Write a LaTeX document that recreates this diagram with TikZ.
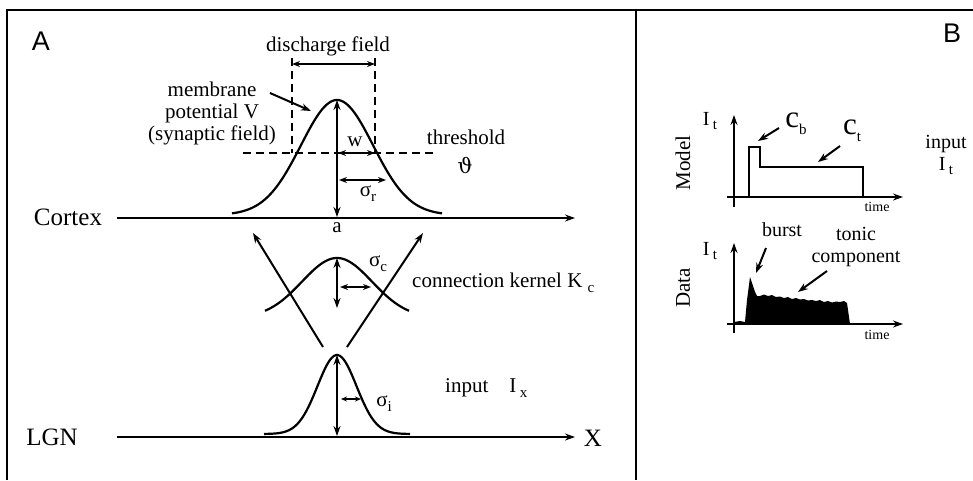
\documentclass[tikz,border=0pt]{standalone}
\usepackage{fontspec}
\setmainfont{Liberation Serif}
\setsansfont{Liberation Sans}
\newfontfamily\symfont{DejaVu Serif}
\usetikzlibrary{arrows.meta}
\newcommand{\fsz}[1]{\fontsize{#1}{#1}\selectfont}
\newcommand{\lowsub}[1]{\raisebox{-0.5ex}{\fsz{15}#1}}

\begin{document}
\begin{tikzpicture}[x=1pt,y=-1pt,>={Stealth[length=10pt,width=7pt]},
  curve/.style={line width=2.2pt},
  axisline/.style={line width=2.4pt,->},
  dashline/.style={line width=2.2pt,dash pattern=on 8pt off 5pt},
  dim/.style={line width=2pt,{Stealth[length=8pt,width=6pt]}-{Stealth[length=8pt,width=6pt]}},
  lbl/.style={font={\fsz{21}},inner sep=0pt},
  big/.style={font={\fsz{25}},inner sep=0pt},
  small/.style={font={\fsz{14}},inner sep=0pt}]
\useasboundingbox (0,0) rectangle (973,480);
\fill[white] (0,0) rectangle (973,480);

% frame
\draw[line width=2.2pt] (7,480) -- (7,10) -- (973,10);
\draw[line width=2.2pt] (636,10) -- (636,480);
\node[font={\sffamily\fsz{27}},inner sep=0pt] (A) at (41,41) {A};
\node[font={\sffamily\fsz{27}},inner sep=0pt] (B) at (952,33) {B};

% cortex
\node[big] (cortex) at (68,217) {Cortex};
\coordinate (cx0) at (117,218);
\coordinate (cx1) at (575,218);
\draw[axisline] (cx0) -- (cx1);
\draw[curve] plot[domain=-105:105,samples=90] ({337+\x},{215-115*exp(0-(\x*\x)/2600)});
\coordinate (cpeak) at (337,100);
\coordinate (cbase) at (337,217);
\draw[line width=2pt,<->] (cpeak) -- (cbase);
\node[lbl] (a) at (337,228) {a};

% discharge field and threshold
\coordinate (dl) at (292,58);
\coordinate (dr) at (375,58);
\draw[dashline] (dl) -- (292,153);
\draw[dashline] (dr) -- (375,153);
\draw[dim] (292,64) -- (375,64);
\node[lbl] (discharge) at (328,46) {discharge field};
\coordinate (th0) at (243,153);
\coordinate (th1) at (436,153);
\draw[dashline] (th0) -- (th1);
\node[lbl] (threshold) at (466,137) {threshold};
\node[font={\symfont\fsz{21}},inner sep=0pt] (theta) at (465,165) {ϑ};
\draw[dim] (338,153) -- (375,153);
\node[lbl] (w) at (355,142) {w};
\draw[dim] (339,180) -- (386,180);
\node[lbl] (sigr) at (368,194) {σ\lowsub{r}};

\node[lbl,align=center,font={\fsz{21}\baselineskip=22pt}] (membrane) at (212,113)
  {membrane\\potential V\\(synaptic field)};
\coordinate (mtip) at (311,111);
\draw[line width=2pt,->] (270,93) -- (mtip);

% feed-forward arrows
\coordinate (fl0) at (323,347);
\coordinate (fl1) at (253,233);
\coordinate (fr0) at (347,347);
\coordinate (fr1) at (423,233);
\draw[line width=2pt,->] (fl0) -- (fl1);
\draw[line width=2pt,->] (fr0) -- (fr1);

% connection kernel
\draw[curve] plot[domain=-72:72,samples=70] ({337+\x},{318-60*exp(0-(\x*\x)/2450)});
\coordinate (kpeak) at (337,258);
\coordinate (kbase) at (337,308);
\draw[line width=2pt,<->] (kpeak) -- (kbase);
\draw[dim] (340,287) -- (371,287);
\node[lbl] (sigc) at (378,264) {σ\lowsub{c}};
\node[lbl,anchor=west] (kernel) at (412,283) {connection kernel K~\lowsub{c}};

% LGN input
\node[big] (lgn) at (52,437) {LGN};
\coordinate (lx0) at (117,437);
\coordinate (lx1) at (575,437);
\draw[axisline] (lx0) -- (lx1);
\node[big] (X) at (593,438) {X};
\draw[curve] plot[domain=-73:73,samples=80] ({337+\x},{434-79*exp(0-(\x*\x)/762)});
\coordinate (ipeak) at (337,355);
\coordinate (ibase) at (337,436);
\draw[line width=2pt,<->] (ipeak) -- (ibase);
\draw[line width=1.6pt,{Stealth[length=6pt,width=5pt]}-{Stealth[length=6pt,width=5pt]}] (341,399) -- (361,399);
\node[lbl] (sigi) at (384,404) {σ\lowsub{i}};
\node[lbl,anchor=west] (input) at (445,388) {input\quad I\,\lowsub{x}};

% B: model input
\node[lbl,rotate=90] (model) at (683,163) {Model};
\coordinate (my0) at (734,207);
\coordinate (my1) at (734,115);
\coordinate (mx0) at (727,197);
\coordinate (mx1) at (903,197);
\draw[axisline] (my0) -- (my1);
\draw[axisline] (mx0) -- (mx1);
\draw[line width=2pt] (749,197) -- (749,147) -- (760,147) -- (760,167) -- (863,167) -- (863,197);
\node[font={\fsz{20}},inner sep=0pt] (mit) at (710,121) {I\,\lowsub{t}};
\node[font={\fsz{31}},inner sep=0pt] (cb) at (796,124) {c\lowsub{b}};
\node[font={\fsz{31}},inner sep=0pt] (ct) at (852,131) {c\lowsub{t}};
\coordinate (cbtip) at (758,141);
\coordinate (cttip) at (818,162);
\draw[line width=2pt,->] (779,128) -- (cbtip);
\draw[line width=2pt,->] (840,146) -- (cttip);
\node[small] (mtime) at (877,207) {time};
\node[font={\fsz{20}},inner sep=0pt,align=center] (inputt) at (946,155) {input\\[2pt]I\,\lowsub{t}};

% B: data
\node[lbl,rotate=90] (data) at (683,288) {Data};
\coordinate (dy0) at (734,333);
\coordinate (dy1) at (734,243);
\coordinate (dx0) at (727,324);
\coordinate (dx1) at (903,324);
\fill (734,324) -- (734,322) -- (740,321) -- (745,322) -- (747,300) -- (750,277) -- (752,283)
  -- (755,292) -- (757,296) -- (760,296) -- (764,294.5) -- (768,296) -- (772,295) -- (776,297)
  -- (780,296.5) -- (784,298) -- (788,297) -- (792,299) -- (796,298) -- (800,299.5) -- (804,299)
  -- (808,300.5) -- (812,300) -- (816,301) -- (820,300) -- (824,302) -- (828,301) -- (832,302.5)
  -- (836,301.5) -- (840,302) -- (844,301) -- (847,303) -- (850,324) -- cycle;
\draw[axisline] (dy0) -- (dy1);
\draw[axisline] (dx0) -- (dx1);
\node[font={\fsz{20}},inner sep=0pt] (dit) at (710,251) {I\,\lowsub{t}};
\node[font={\fsz{20}},inner sep=0pt] (burst) at (782,230) {burst};
\node[font={\fsz{20}},inner sep=0pt,align=center] (tonic) at (856,247) {tonic\\[1pt]component};
\coordinate (bursttip) at (756,273);
\coordinate (tonictip) at (798,292);
\draw[line width=2pt,->] (766,248) -- (bursttip);
\draw[line width=2pt,->] (827,271) -- (tonictip);
\node[small] (dtime) at (877,335) {time};
\end{tikzpicture}
\end{document}
